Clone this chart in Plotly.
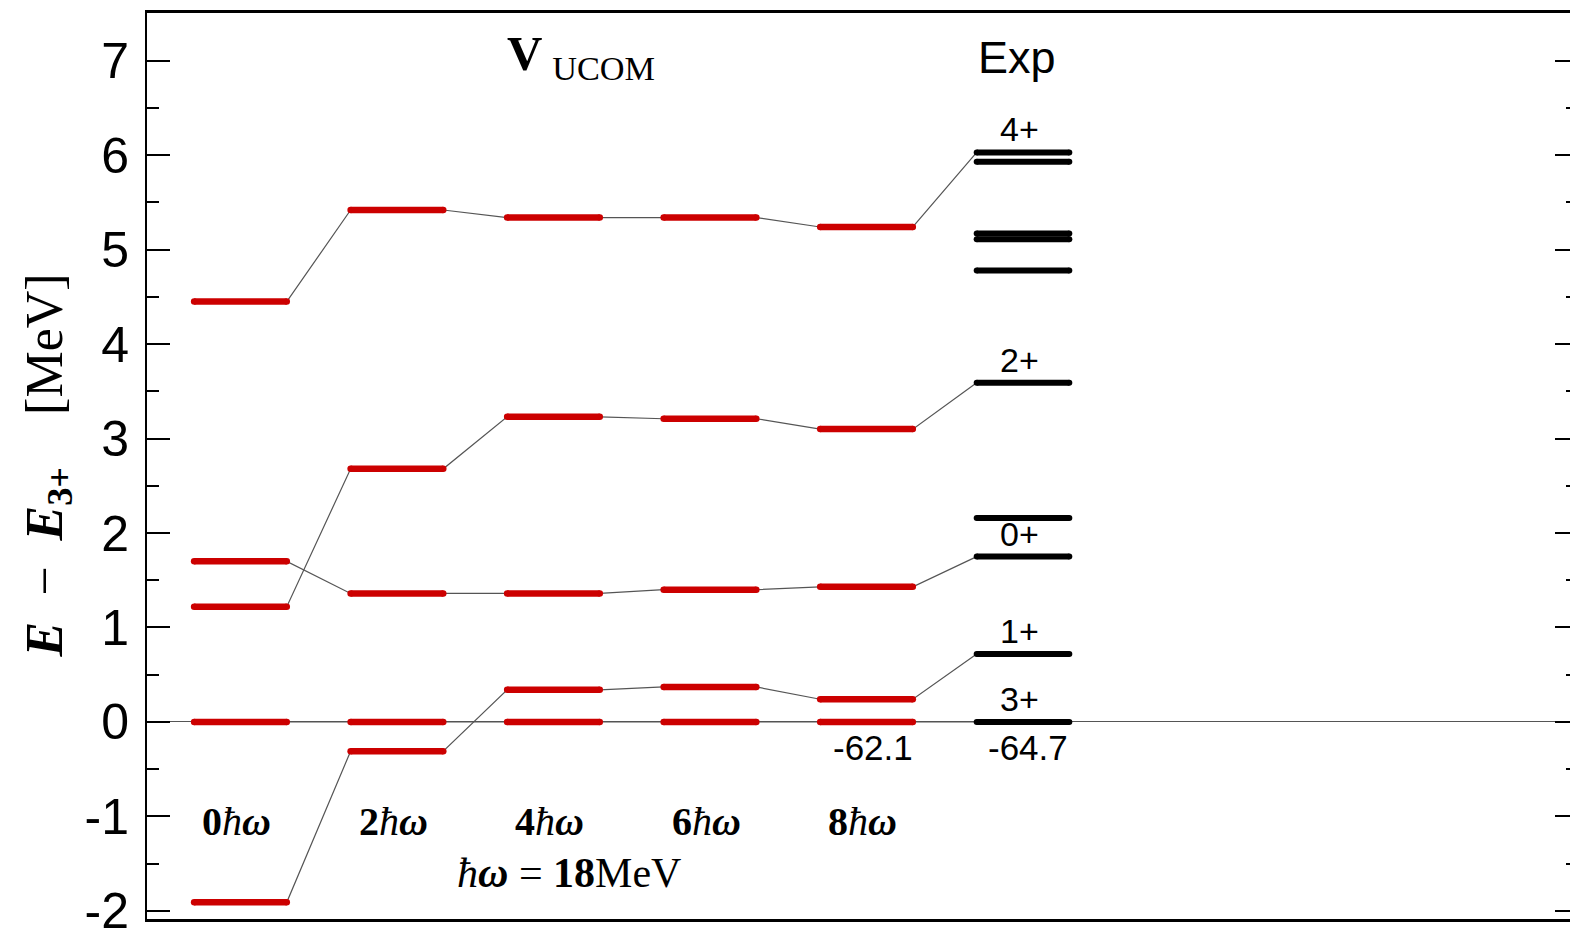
import plotly.graph_objects as go

# ---------------- data ----------------
col_labels = ["0", "2", "4", "6", "8"]          # N_max hbar-omega columns
exp_col = 5
# theory levels (E - E_3+) [MeV], one list per connected level sequence
lvl_A = [4.45, 5.42, 5.34, 5.34, 5.24]
lvl_B = [1.22, 2.68, 3.23, 3.21, 3.10]
lvl_C = [1.70, 1.36, 1.36, 1.40, 1.43]
lvl_D = [-1.91, -0.31, 0.34, 0.37, 0.24]
lvl_E = [0.00, 0.00, 0.00, 0.00, 0.00]
# experimental levels
exp_levels = [6.03, 5.93, 5.17, 5.11, 4.78, 3.59, 2.16, 1.75, 0.72, 0.00]
# connections theory-sequence -> experimental level
conn_exp = [6.03, 3.59, 1.75, 0.72, 0.00]
# spin labels of experimental levels
spin_labels = ["4+", "2+", "0+", "1+", "3+"]
spin_levels = [6.03, 3.59, 1.75, 0.72, 0.00]
gs_theory = "-62.1"
gs_exp = "-64.7"

series = [lvl_A, lvl_B, lvl_C, lvl_D, lvl_E]

HW = 0.296          # half width of a level bar (in column units)
RED = "#cc0000"
GREY = "#555555"
SANS = "Liberation Sans, Arial, sans-serif"
SERIF = "Liberation Serif, Times New Roman, serif"
NB = "\u00a0"

fig = go.Figure()

# connecting thin lines
for vals, ev in zip(series, conn_exp):
    xs, ys = [], []
    for i, v in enumerate(vals):
        xs += [i - HW, i + HW]
        ys += [v, v]
    xs.append(exp_col - HW)
    ys.append(ev)
    fig.add_trace(go.Scatter(x=xs, y=ys, mode="lines",
                             line=dict(color=GREY, width=1.2),
                             hoverinfo="skip", showlegend=False))

# red theory bars
rx, ry = [], []
for vals in series:
    for i, v in enumerate(vals):
        rx += [i - HW, i + HW, None]
        ry += [v, v, None]
fig.add_trace(go.Scatter(x=rx, y=ry, mode="lines+markers",
                         line=dict(color=RED, width=6.5),
                         marker=dict(color=RED, size=6.5, line=dict(width=0)),
                         showlegend=False))

# black experimental bars
bx, by = [], []
for v in exp_levels:
    bx += [exp_col - HW, exp_col + HW, None]
    by += [v, v, None]
fig.add_trace(go.Scatter(x=bx, y=by, mode="lines+markers",
                         line=dict(color="black", width=6),
                         marker=dict(color="black", size=6, line=dict(width=0)),
                         showlegend=False))

ann = []
# spin labels
for lab, v in zip(spin_labels, spin_levels):
    ann.append(dict(x=exp_col - 0.02, y=v, text=lab, showarrow=False,
                    yanchor="bottom", yshift=2,
                    font=dict(family=SANS, size=34, color="black")))
# ground state energies
ann.append(dict(x=4.04, y=0, text=gs_theory, showarrow=False, yanchor="middle",
                yshift=-26, font=dict(family=SANS, size=35, color="black")))
ann.append(dict(x=5.03, y=0, text=gs_exp, showarrow=False, yanchor="middle",
                yshift=-26, font=dict(family=SANS, size=35, color="black")))
# hbar-omega column labels
for i, c in enumerate(col_labels):
    ann.append(dict(x=i - 0.025, y=-1.05, text="<b>%s</b><i>ħ</i><b><i>ω</i></b>" % c,
                    showarrow=False, yanchor="middle",
                    font=dict(family=SERIF, size=40, color="black")))
ann.append(dict(x=2.1, y=-1.6,
                text="<i>ħ</i><b><i>ω</i></b>" + NB + "=" + NB + "<b>18</b>MeV",
                showarrow=False, yanchor="middle",
                font=dict(family=SERIF, size=42, color="black")))
# headings
ann.append(dict(x=2.176, y=7.05, text="<b>V</b>\u2009<sub>UCOM</sub>", showarrow=False,
                yanchor="middle", font=dict(family=SERIF, size=49, color="black")))
ann.append(dict(x=4.96, y=7.03, text="Exp", showarrow=False,
                yanchor="middle", font=dict(family=SANS, size=45, color="black")))
# y-axis title
ann.append(dict(xref="paper", yref="paper", x=-0.0695, y=0.5, textangle=-90,
                text="<b><i>E</i></b>" + NB * 2 + "−" + NB * 2 + "<b><i>E</i></b><sub><b>3+</b></sub>"
                     + NB * 4 + "[MeV]",
                showarrow=False, xanchor="center", yanchor="middle",
                font=dict(family=SERIF, size=52, color="black")))

fig.update_layout(
    width=1570, height=928,
    margin=dict(l=139, r=0, t=4.5, b=17, autoexpand=False),
    paper_bgcolor="white", plot_bgcolor="white",
    annotations=ann,
    xaxis=dict(range=[-0.597, 8.546], showgrid=False, zeroline=False,
               showticklabels=False, ticks="", showline=True, linecolor="black",
               linewidth=2.5, mirror=True, automargin=False),
    yaxis=dict(range=[-2.087, 7.506], showgrid=False, tickmode="array",
               tickvals=[-2, -1, 0, 1, 2, 3, 4, 5, 6, 7],
               ticktext=["-2", "-1", "0", "1", "2", "3", "4", "5", "6", "7"],
               ticks="inside", ticklen=23, tickwidth=1.5, tickcolor="black",
               minor=dict(dtick=0.5, ticks="inside", ticklen=12, tickwidth=1.5,
                          tickcolor="black"),
               showline=True, linecolor="black", linewidth=2, mirror="ticks",
               zeroline=True, zerolinecolor=GREY, zerolinewidth=1.2,
               tickfont=dict(family=SANS, size=50, color="black"),
               ticklabelstandoff=6, ticklabeloverflow="allow", automargin=False),
)

fig.write_html("out.html")
